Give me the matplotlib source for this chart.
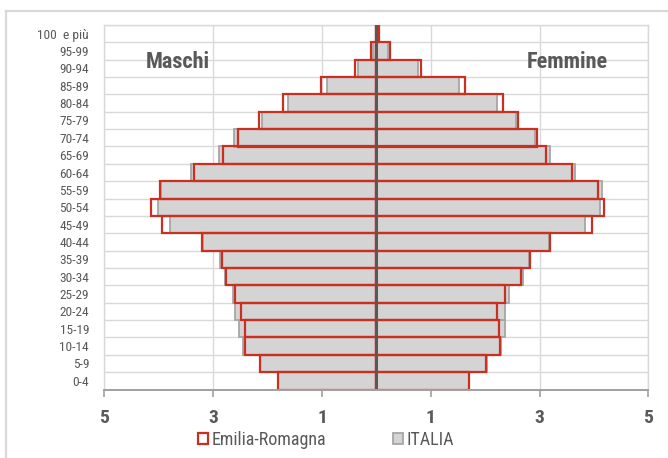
import matplotlib
matplotlib.use("Agg")
import matplotlib.pyplot as plt
from matplotlib.patches import Patch
from matplotlib.lines import Line2D
import numpy as np

categories = ['0-4', '5-9', '10-14', '15-19', '20-24', '25-29', '30-34', '35-39',
              '40-44', '45-49', '50-54', '55-59', '60-64', '65-69', '70-74',
              '75-79', '80-84', '85-89', '90-94', '95-99', '100  e più']

er_maschi = [1.81, 2.13, 2.41, 2.42, 2.49, 2.59, 2.77, 2.84, 3.20, 3.95, 4.14,
             3.98, 3.35, 2.82, 2.54, 2.16, 1.72, 1.02, 0.39, 0.09, 0.01]
it_maschi = [1.81, 2.13, 2.45, 2.53, 2.60, 2.63, 2.79, 2.87, 3.18, 3.79, 4.02,
             3.96, 3.40, 2.90, 2.62, 2.10, 1.62, 0.91, 0.33, 0.07, 0.01]
er_femmine = [1.71, 2.01, 2.27, 2.25, 2.22, 2.37, 2.66, 2.83, 3.20, 3.96, 4.18,
              4.07, 3.60, 3.12, 2.95, 2.60, 2.32, 1.63, 0.83, 0.25, 0.04]
it_femmine = [1.71, 2.03, 2.29, 2.36, 2.36, 2.44, 2.69, 2.81, 3.17, 3.84, 4.11,
              4.15, 3.65, 3.19, 2.92, 2.57, 2.22, 1.52, 0.77, 0.22, 0.03]

xtick_values = [-5, -3, -1, 1, 3, 5]
xtick_labels = ['5', '3', '1', '1', '3', '5']
series_names = ['Emilia-Romagna', 'ITALIA']

NARROW = ['Roboto Condensed', 'DejaVu Sans']
TXT = '#595959'
RED = '#c9301f'
GRAY_FILL = '#d4d4d4'
GRAY_EDGE = '#a6a6a6'
GRID = '#d9d9d9'

W, H = 668, 458
fig = plt.figure(figsize=(W / 100, H / 100), dpi=100)

# outer chart border
fig.add_artist(Line2D([6 / W, 6 / W], [1 - 11 / H, -0.1], color=GRID, lw=1.6,
                      transform=fig.transFigure))
fig.add_artist(Line2D([6 / W, 1.1], [1 - 11 / H, 1 - 11 / H], color=GRID, lw=1.6,
                      transform=fig.transFigure))

left, right, top, bottom = 104.4, 648.3, 25, 389.5
ax = fig.add_axes([left / W, 1 - bottom / H, (right - left) / W, (bottom - top) / H])

y = np.arange(len(categories))

# ITALIA (grey, filled)
ax.barh(y, -np.array(it_maschi), height=1.0, color=GRAY_FILL, edgecolor=GRAY_EDGE,
        linewidth=1.3, zorder=3)
ax.barh(y, np.array(it_femmine), height=1.0, color=GRAY_FILL, edgecolor=GRAY_EDGE,
        linewidth=1.3, zorder=3)
# Emilia-Romagna (red outline)
ax.barh(y, -np.array(er_maschi), height=1.0, facecolor='none', edgecolor=RED,
        linewidth=1.6, zorder=4)
ax.barh(y, np.array(er_femmine), height=1.0, facecolor='none', edgecolor=RED,
        linewidth=1.6, zorder=4)

ax.axvline(0, color='#5e5656', lw=2.2, zorder=5)

ax.set_xlim(-5, 5)
ax.set_ylim(-0.5, len(categories) - 0.5)

# gridlines
for xv in xtick_values:
    ax.axvline(xv, color=GRID, lw=1.0, zorder=1)
for k in range(len(categories)):
    ax.axhline(k + 0.5, color=GRID, lw=1.0, zorder=1)

ax.set_xticks(xtick_values)
ax.set_xticklabels(xtick_labels, fontsize=14, fontweight='bold', color=TXT, family=NARROW)
ax.set_yticks(y)
ax.set_yticklabels(categories, fontsize=9.6, color=TXT, family=NARROW)
ax.tick_params(axis='y', length=0, pad=11)
ax.tick_params(axis='x', length=5, width=1.2, color='#a0a0a0', pad=9, direction='out')

for s in ['top', 'right', 'left']:
    ax.spines[s].set_color(GRID)
    ax.spines[s].set_linewidth(1.0)
ax.spines['bottom'].set_color('#a0a0a0')
ax.spines['bottom'].set_linewidth(1.4)
ax.spines['bottom'].set_zorder(6)

fig.text(178 / W, 1 - 62 / H, 'Maschi', fontsize=16, fontweight='bold', color=TXT,
         family=NARROW, ha='center', va='center')
fig.text(567 / W, 1 - 62 / H, 'Femmine', fontsize=16, fontweight='bold', color=TXT,
         family=NARROW, ha='center', va='center')

handles = [Patch(facecolor='white', edgecolor=RED, linewidth=1.6),
           Patch(facecolor=GRAY_FILL, edgecolor=GRAY_EDGE, linewidth=1.3)]
leg = fig.legend(handles, series_names, loc='center', bbox_to_anchor=(326 / W, 1 - 440 / H),
                 ncol=2, frameon=False, handlelength=0.55, handleheight=0.55,
                 handletextpad=0.2, columnspacing=3.7,
                 prop={'family': NARROW, 'size': 13})
for t in leg.get_texts():
    t.set_color(TXT)

fig.savefig('out.png', dpi=100)
